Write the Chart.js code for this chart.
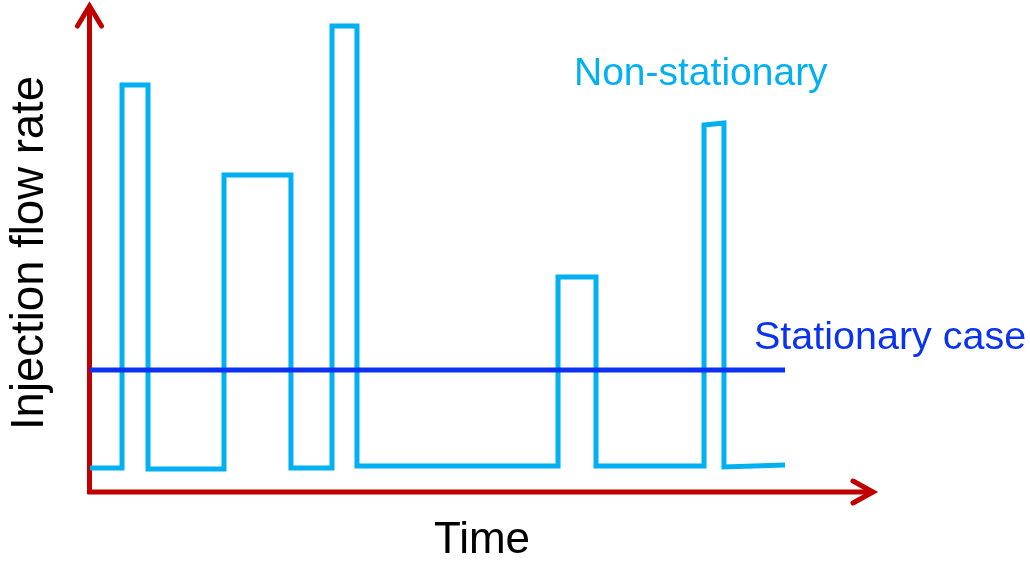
<!DOCTYPE html>
<html>
<head>
<meta charset="utf-8">
<script src="https://cdn.jsdelivr.net/npm/chart.js@4"></script>
<style>
  html, body { margin: 0; padding: 0; background: #ffffff; }
  canvas { display: block; }
</style>
</head>
<body>
<canvas id="flowChart" width="1030" height="564"></canvas>
<script>
// Non-stationary injection: time / flow pairs
const nonStatTime = [0, 4.08, 4.08, 7.39, 7.39, 17.07, 17.07, 25.6, 25.6, 30.83, 30.83, 34.01, 34.01, 59.62, 59.62, 64.46, 64.46, 78.22, 78.22, 80.76, 80.76, 88.54];
const nonStatFlow = [4.92, 4.92, 83.4, 83.4, 4.71, 4.71, 64.96, 64.96, 4.92, 4.92, 95.49, 95.49, 5.33, 5.33, 44.06, 44.06, 5.33, 5.33, 75.2, 75.61, 5.12, 5.53];

// Stationary case: constant flow
const statTime = [0, 88.54];
const statFlow = [25.0, 25.0];

const labels = {
  xTitle: "Time",
  yTitle: "Injection flow rate",
  nonStat: "Non-stationary",
  stat: "Stationary case",
};

const AXIS_RED = "#C00000";
const LIGHT_BLUE = "#00B0F0";
const DARK_BLUE = "#0A32F0";
const FONT = "'Liberation Sans', Arial, sans-serif";

function toPoints(xs, ys) {
  return xs.map((x, i) => ({ x: x, y: ys[i] }));
}

// draw the red axes with arrow heads + the text labels
const axesPlugin = {
  id: "axesArrows",
  beforeDatasetsDraw(chart) {
    const { ctx, chartArea } = chart;
    const l = chartArea.left - 0.5;
    const b = chartArea.bottom;
    ctx.save();
    ctx.strokeStyle = AXIS_RED;
    ctx.lineWidth = 5;
    ctx.lineCap = "butt";
    ctx.beginPath();
    ctx.moveTo(l, b + 2);
    ctx.lineTo(l, chartArea.top + 3);
    ctx.moveTo(l - 2, b);
    ctx.lineTo(chartArea.right - 3, b);
    ctx.stroke();

    ctx.lineCap = "round";
    ctx.lineJoin = "miter";
    ctx.beginPath();
    ctx.moveTo(l - 12, chartArea.top + 22);
    ctx.lineTo(l, chartArea.top + 2);
    ctx.lineTo(l + 12, chartArea.top + 22);
    ctx.moveTo(chartArea.right - 22, b - 11);
    ctx.lineTo(chartArea.right - 2, b);
    ctx.lineTo(chartArea.right - 22, b + 11);
    ctx.stroke();
    ctx.restore();
  },
  afterDatasetsDraw(chart) {
    const { ctx } = chart;
    ctx.save();
    ctx.textBaseline = "middle";

    ctx.fillStyle = LIGHT_BLUE;
    ctx.font = "39px " + FONT;
    ctx.textAlign = "left";
    ctx.fillText(labels.nonStat, 574, 74);

    ctx.fillStyle = DARK_BLUE;
    ctx.font = "39.5px " + FONT;
    ctx.fillText(labels.stat, 754, 338);

    ctx.fillStyle = "#000000";
    ctx.font = "44px " + FONT;
    ctx.textAlign = "center";
    ctx.fillText(labels.xTitle, 482, 541);

    ctx.font = "45.5px " + FONT;
    ctx.translate(30, 253);
    ctx.rotate(-Math.PI / 2);
    ctx.fillText(labels.yTitle, 0, 0);
    ctx.restore();
  },
};

new Chart(document.getElementById("flowChart"), {
  type: "line",
  data: {
    datasets: [
      {
        label: labels.stat,
        data: toPoints(statTime, statFlow),
        borderColor: DARK_BLUE,
        borderWidth: 5,
        pointRadius: 0,
        tension: 0,
        clip: false,
      },
      {
        label: labels.nonStat,
        data: toPoints(nonStatTime, nonStatFlow),
        borderColor: LIGHT_BLUE,
        borderWidth: 5,
        borderJoinStyle: "miter",
        borderCapStyle: "butt",
        pointRadius: 0,
        tension: 0,
        clip: false,
      },
    ],
  },
  options: {
    responsive: false,
    animation: false,
    devicePixelRatio: 1,
    layout: { padding: { left: 90, right: 155, top: 4, bottom: 72 } },
    plugins: {
      legend: { display: false },
      tooltip: { enabled: false },
    },
    scales: {
      x: { type: "linear", min: 0, max: 100, display: false },
      y: { type: "linear", min: 0, max: 100, display: false },
    },
  },
  plugins: [axesPlugin],
});
</script>
</body>
</html>
